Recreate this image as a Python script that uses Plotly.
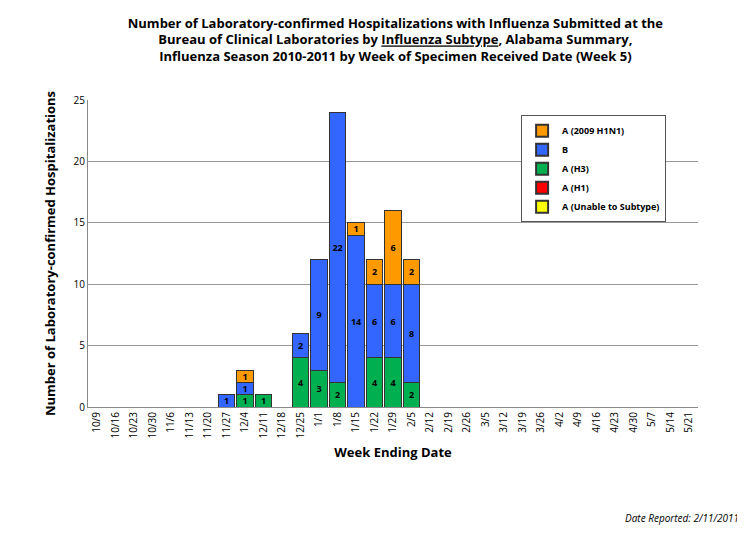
import plotly.graph_objects as go

weeks = ["10/9", "10/16", "10/23", "10/30", "11/6", "11/13", "11/20", "11/27", "12/4", "12/11",
         "12/18", "12/25", "1/1", "1/8", "1/15", "1/22", "1/29", "2/5", "2/12", "2/19", "2/26",
         "3/5", "3/12", "3/19", "3/26", "4/2", "4/9", "4/16", "4/23", "4/30", "5/7", "5/14", "5/21"]
n = len(weeks)

def series(vals):
    out = [0] * n
    for w, v in vals.items():
        out[weeks.index(w)] = v
    return out

unable = series({})
h1 = series({})
h3 = series({"12/4": 1, "12/11": 1, "12/25": 4, "1/1": 3, "1/8": 2, "1/22": 4, "1/29": 4, "2/5": 2})
b = series({"11/27": 1, "12/4": 1, "12/25": 2, "1/1": 9, "1/8": 22, "1/15": 14, "1/22": 6, "1/29": 6, "2/5": 8})
h1n1 = series({"12/4": 1, "1/15": 1, "1/22": 2, "1/29": 6, "2/5": 2})

fig = go.Figure()
# legend order top-to-bottom: H1N1, B, H3, H1, Unable
for name, vals, color in [("A (Unable to Subtype)", unable, "#FFFF00"),
                          ("A (H1)", h1, "#FF0000"),
                          ("A (H3)", h3, "#00B050"),
                          ("B", b, "#3366FF"),
                          ("A (2009 H1N1)", h1n1, "#FF9900")]:
    fig.add_trace(go.Bar(x=weeks, y=vals, name="<b>" + name + "</b>",
                         marker=dict(color=color, line=dict(color="#333333", width=1)),
                         text=["<b>" + str(v) + "</b>" if v else "" for v in vals],
                         textposition="inside", insidetextanchor="middle", textangle=0,
                         textfont=dict(color="black", size=9, family="Open Sans"),
                         constraintext="none", cliponaxis=False))

fig.update_layout(
    barmode="stack", bargap=0.1, width=745, height=559,
    uniformtext=dict(minsize=8, mode="show"),
    paper_bgcolor="white", plot_bgcolor="rgba(0,0,0,0)",
    margin=dict(l=80, r=55, t=92, b=160),
    font=dict(family="Open Sans", color="black"),
    title=dict(text="<b>Number of Laboratory-confirmed Hospitalizations with Influenza Submitted at the<br>"
                    "Bureau of Clinical Laboratories by <u>Influenza Subtype</u>, Alabama Summary,<br>"
                    "Influenza Season 2010-2011 by Week of Specimen Received Date (Week 5)</b>",
               x=0.52, xanchor="center", y=0.965, yanchor="top", font=dict(size=13)),
    xaxis=dict(tickangle=-90, tickfont=dict(size=10), showline=True, linecolor="#888888",
               title=dict(text="<b>Week Ending Date</b>", font=dict(size=13), standoff=10)),
    yaxis=dict(range=[0, 25], dtick=5, gridcolor="#999999", showline=True, linecolor="#888888",
               tickfont=dict(size=10),
               title=dict(text="<b>Number of Laboratory-confirmed Hospitalizations</b>", font=dict(size=13))),
    legend=dict(x=0.71, y=0.95, xanchor="left", yanchor="top", bgcolor="white",
                bordercolor="#555555", borderwidth=1, font=dict(size=9),
                traceorder="reversed", tracegroupgap=8, itemsizing="constant"),
    annotations=[dict(text="<i>Date Reported: 2/11/2011</i>", x=1.07, y=-0.39, xref="paper", yref="paper",
                      xanchor="right", yanchor="bottom", showarrow=False, font=dict(size=10))],
)

fig.write_html("out.html")
